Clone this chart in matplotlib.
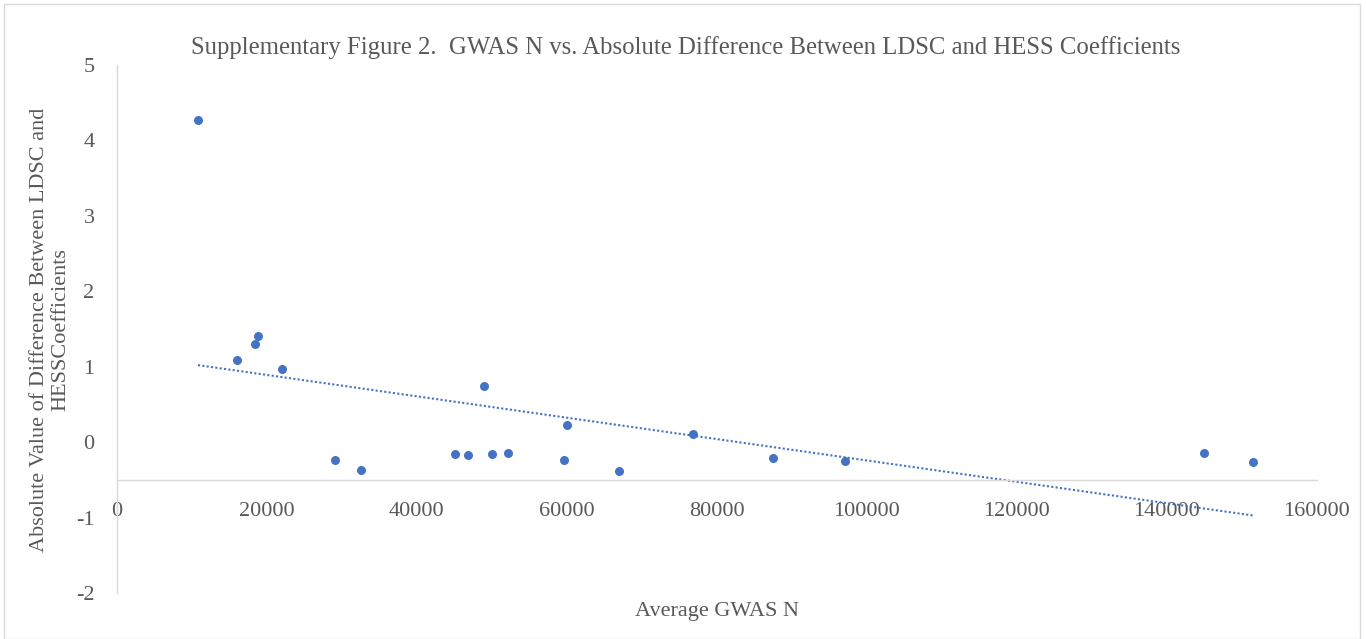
import numpy as np
import matplotlib
matplotlib.use("Agg")
import matplotlib.pyplot as plt
from matplotlib.patches import Rectangle

# ---- data ----
gwas_n = [10840, 15990, 18440, 18790, 22000, 29110, 32530, 45110, 46840, 48910,
          50090, 52170, 59610, 60090, 67000, 76790, 87500, 97110, 145010, 151510]
abs_diff = [4.265, 1.088, 1.304, 1.41, 0.973, -0.24, -0.366, -0.15, -0.163, 0.751,
            -0.154, -0.144, -0.237, 0.231, -0.379, 0.114, -0.207, -0.246, -0.14, -0.256]
x_ticks = [0, 20000, 40000, 60000, 80000, 100000, 120000, 140000, 160000]
y_ticks = [-2, -1, 0, 1, 2, 3, 4, 5]

title = "Supplementary Figure 2.  GWAS N vs. Absolute Difference Between LDSC and HESS Coefficients"
xlabel = "Average GWAS N"
ylabel = "Absolute Value of Difference Between LDSC and\nHESSCoefficients"

TXT = "#595959"
AX = "#d9d9d9"
BLUE = "#4472C4"
FONT = "Liberation Serif"

W, H = 1366, 639
fig = plt.figure(figsize=(W / 100, H / 100), dpi=100)

# chart-area border
fig.patches.append(Rectangle((4 / W, 0), (1360 - 4) / W, 1 - 4 / H, transform=fig.transFigure,
                             fill=False, edgecolor=AX, linewidth=1.0))

ax = fig.add_axes([116.7 / W, 1 - 593.3 / H, 1200 / W, 528.3 / H])
ax.set_xlim(0, 160000)
ax.set_ylim(-2, 5)

x = np.array(gwas_n, dtype=float)
y = np.array(abs_diff, dtype=float)
ax.scatter(x, y, s=42, color=BLUE, zorder=3, linewidths=0)

# linear trendline
k, b = np.polyfit(x, y, 1)
xt = np.array([x.min(), x.max()])
ax.plot(xt, k * xt + b, color=BLUE, linewidth=1.5, linestyle=(0, (1, 1.1)), zorder=2)

for s in ["top", "right"]:
    ax.spines[s].set_visible(False)
ax.spines["left"].set_color(AX)
ax.spines["bottom"].set_color(AX)
ax.spines["left"].set_linewidth(1.0)
ax.spines["bottom"].set_linewidth(1.0)
ax.spines["bottom"].set_position(("data", -0.5))

ax.set_xticks(x_ticks)
ax.set_xticklabels([str(v) for v in x_ticks])
ax.set_yticks(y_ticks)
ax.set_yticklabels([str(v) for v in y_ticks])
ax.tick_params(axis="both", length=0, labelcolor=TXT, labelsize=16)
ax.tick_params(axis="x", pad=16)
ax.tick_params(axis="y", pad=16)
for lab in ax.get_xticklabels() + ax.get_yticklabels():
    lab.set_fontfamily(FONT)

fig.text(686 / W, 1 - 48 / H, title, ha="center", va="center", color=TXT,
         fontsize=17.8, fontfamily=FONT)
fig.text(716.7 / W, 1 - 611.7 / H, xlabel, ha="center", va="center", color=TXT,
         fontsize=16, fontfamily=FONT)
fig.text(50 / W, 1 - 330 / H, ylabel, ha="center", va="center", color=TXT,
         fontsize=16, fontfamily=FONT, rotation=90, linespacing=1.15)

fig.savefig("out.png", dpi=100)
